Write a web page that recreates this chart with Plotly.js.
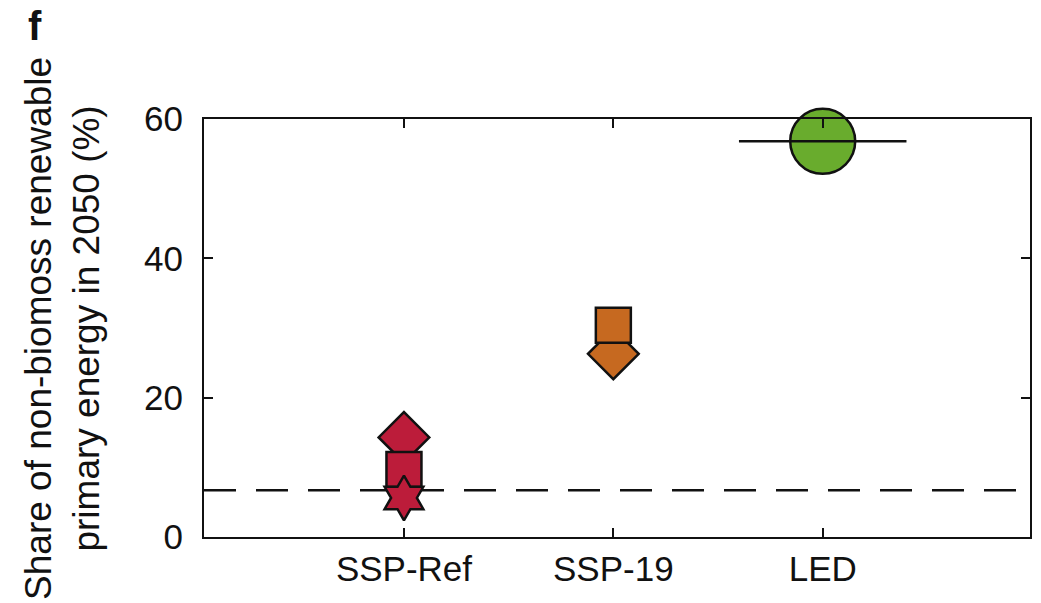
<!DOCTYPE html>
<html>
<head>
<meta charset="utf-8">
<script src="https://cdn.plot.ly/plotly-3.0.1.min.js"></script>
<style>
  html, body { margin: 0; padding: 0; background: #fff; }
  #chart { width: 1041px; height: 603px; }
</style>
</head>
<body>
<div id="chart"></div>
<script>
// Scenarios along the x axis
const categories = ['SSP-Ref', 'SSP-19', 'LED'];

// Share of non-biomass renewable primary energy in 2050 (%), one array per model marker
const diamondValues = [14.3, 26.3, null];
const squareValues  = [9.7, 30.4, null];
const starValues    = [5.6, null, null];
const circleValues  = [null, null, 56.8];

// Horizontal reference bar drawn through a scenario's marker
const barValues = [null, null, 56.8];

// Present-day share (dashed line)
const baselineValue = 6.7;

// Y tick values
const yTicks = [0, 20, 40, 60];

// Scenario colours
const scenarioColors = ['#BC1C3A', '#C66920', '#69AC2D'];

const xPos = categories.map((c, i) => i + 1);

function markerTrace(values, symbol, size) {
  const xs = [], ys = [], cols = [];
  values.forEach((v, i) => {
    if (v !== null) { xs.push(xPos[i]); ys.push(v); cols.push(scenarioColors[i]); }
  });
  return {
    type: 'scatter', mode: 'markers', x: xs, y: ys,
    marker: { symbol: symbol, size: size, color: cols, line: { color: '#111', width: 2.5 } },
    hoverinfo: 'skip', showlegend: false, cliponaxis: false
  };
}

const traces = [
  markerTrace(diamondValues, 'diamond', 39),
  markerTrace(squareValues, 'square', 35),
  markerTrace(starValues, 'hexagram', 34),
  markerTrace(circleValues, 'circle', 65)
];

// Bars across the marker
const barHalfWidth = 0.4;
barValues.forEach((v, i) => {
  if (v === null) return;
  traces.push({
    type: 'scatter', mode: 'lines',
    x: [xPos[i] - barHalfWidth, xPos[i] + barHalfWidth], y: [v, v],
    line: { color: '#111', width: 2.5 },
    hoverinfo: 'skip', showlegend: false
  });
});

const font = 'Liberation Sans, Arial, Helvetica, sans-serif';

const layout = {
  width: 1041, height: 603,
  margin: { l: 204, r: 11, t: 119, b: 66 },
  paper_bgcolor: '#fff', plot_bgcolor: '#fff',
  font: { family: font, color: '#111' },
  xaxis: {
    range: [0.045, 3.99],
    tickvals: xPos, ticktext: categories,
    ticks: 'inside', ticklen: 9, tickwidth: 2, tickcolor: '#111',
    showline: true, linecolor: '#111', linewidth: 2, mirror: 'ticks',
    showgrid: false, zeroline: false,
    tickfont: { size: 35, family: font, color: '#111' },
    fixedrange: true
  },
  yaxis: {
    range: [0, 60],
    tickvals: yTicks,
    ticks: 'inside', ticklen: 9, tickwidth: 2, tickcolor: '#111',
    showline: true, linecolor: '#111', linewidth: 2, mirror: 'ticks',
    showgrid: false, zeroline: false,
    tickfont: { size: 35, family: font, color: '#111' },
    ticklabelstandoff: 12,
    fixedrange: true
  },
  shapes: [{
    type: 'line', xref: 'paper', x0: 0, x1: 1, yref: 'y', y0: baselineValue, y1: baselineValue,
    line: { color: '#111', width: 2.5, dash: '32px,20px' }, layer: 'below'
  }],
  annotations: [
    {
      text: 'Share of non-biomoss renewable<br>primary energy in 2050 (%)',
      xref: 'paper', yref: 'paper', x: -0.172, y: 0.5,
      xanchor: 'center', yanchor: 'middle', textangle: -90, showarrow: false,
      font: { size: 37, family: font, color: '#111' }
    },
    {
      text: '<b>f</b>',
      xref: 'paper', yref: 'paper', x: -0.216, y: 1.28,
      xanchor: 'left', yanchor: 'top', showarrow: false,
      font: { size: 40, family: font, color: '#111' }
    }
  ]
};

Plotly.newPlot('chart', traces, layout, { displayModeBar: false, staticPlot: true });
</script>
</body>
</html>
